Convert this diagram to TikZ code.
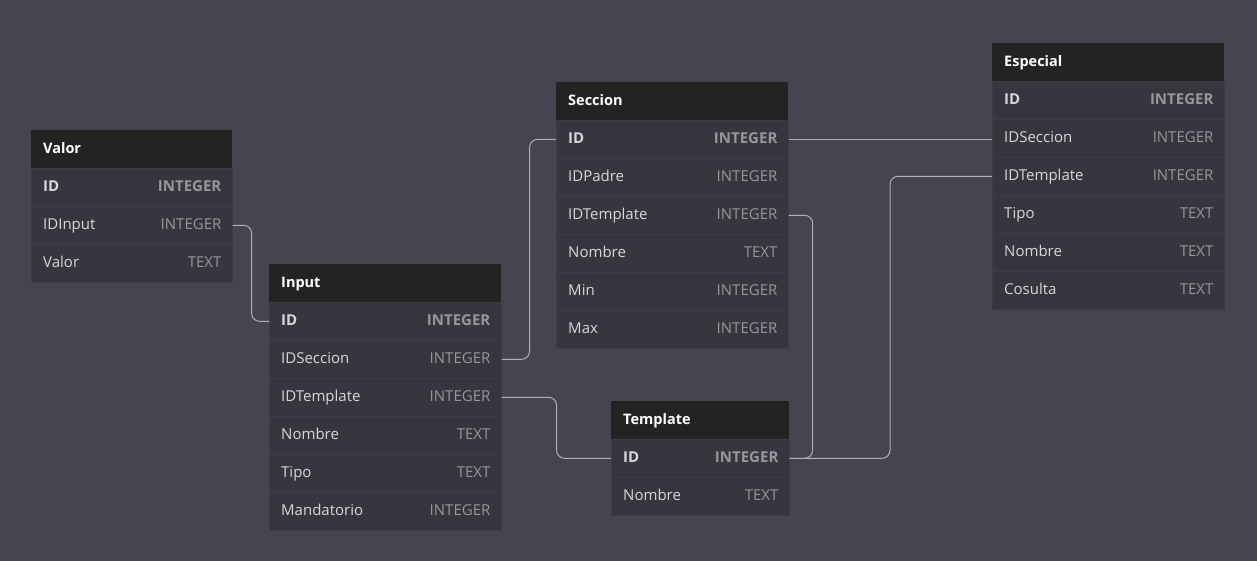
\documentclass[tikz,border=0pt]{standalone}
\usepackage{fontspec}
\setmainfont{Open Sans}
\definecolor{bgc}{RGB}{69,69,79}
\definecolor{rowc}{RGB}{54,54,62}
\definecolor{sepc}{RGB}{60,60,68}
\definecolor{hdrc}{RGB}{35,35,35}
\definecolor{namec}{RGB}{215,215,218}
\definecolor{typec}{RGB}{150,150,155}
\definecolor{linec}{RGB}{175,175,182}
\tikzset{
  hdrbox/.style={fill=hdrc, draw=none, minimum height=38pt, anchor=north west, inner sep=0pt},
  rowbox/.style={fill=rowc, draw=sepc, line width=0.6pt, minimum height=38pt, anchor=north west, inner sep=0pt},
  hdrtxt/.style={anchor=base west, inner sep=0pt, text=white, font=\fontsize{14.5}{16}\selectfont\bfseries},
  nametxt/.style={anchor=base west, inner sep=0pt, text=namec, font=\fontsize{15}{17}\selectfont},
  typetxt/.style={anchor=base east, inner sep=0pt, text=typec, font=\fontsize{15}{17}\selectfont},
  conn/.style={draw=linec, line width=1pt, rounded corners=8pt},
}
\newcommand\dbtab[6]{%
  \node[hdrbox, minimum width=#4] (#1-h) at (#2,#3) {};
  \node[hdrtxt] (#1-t) at ([xshift=12pt,yshift=-4.5pt]#1-h.west) {#5};
  \foreach \i/\f/\t in {#6} {
    \node[rowbox, minimum width=#4] (#1-\i) at (#2,{#3+38*\i}) {};
    \ifnum\i=1
      \node[nametxt, font=\fontsize{15}{17}\selectfont\bfseries] (#1-\i-n) at ([xshift=12pt,yshift=-4.5pt]#1-\i.west) {\f};
      \node[typetxt, font=\fontsize{15}{17}\selectfont\bfseries] (#1-\i-ty) at ([xshift=-11pt,yshift=-4.5pt]#1-\i.east) {\t};
    \else
      \node[nametxt] (#1-\i-n) at ([xshift=12pt,yshift=-4.5pt]#1-\i.west) {\f};
      \node[typetxt] (#1-\i-ty) at ([xshift=-11pt,yshift=-4.5pt]#1-\i.east) {\t};
    \fi
  }%
}
\begin{document}
\begin{tikzpicture}[x=1pt,y=-1pt]
\useasboundingbox (0,0) rectangle (1257,560);
\fill[bgc] (-5,-5) rectangle (1262,565);

\dbtab{valor}{31}{130}{201pt}{Valor}{1/ID/INTEGER,2/IDInput/INTEGER,3/Valor/TEXT}
\dbtab{input}{269}{264}{232pt}{Input}{1/ID/INTEGER,2/IDSeccion/INTEGER,3/IDTemplate/INTEGER,4/Nombre/TEXT,5/Tipo/TEXT,6/Mandatorio/INTEGER}
\dbtab{seccion}{556}{82}{232pt}{Seccion}{1/ID/INTEGER,2/IDPadre/INTEGER,3/IDTemplate/INTEGER,4/Nombre/TEXT,5/Min/INTEGER,6/Max/INTEGER}
\dbtab{template}{611}{401}{178pt}{Template}{1/ID/INTEGER,2/Nombre/TEXT}
\dbtab{especial}{992}{43}{232pt}{Especial}{1/ID/INTEGER,2/IDSeccion/INTEGER,3/IDTemplate/INTEGER,4/Tipo/TEXT,5/Nombre/TEXT,6/Cosulta/TEXT}

\draw[conn] (valor-2.east) -- ++(19,0) |- (input-1.west);
\draw[conn] (input-2.east) -- ++(28,0) |- (seccion-1.west);
\draw[conn] (input-3.east) -- ++(55,0) |- (template-1.west);
\draw[conn] (seccion-3.east) -- ++(24,0) |- (template-1.east);
\draw[conn] (especial-3.west) -- ++(-102,0) |- (template-1.east);
\draw[conn] (seccion-1.east) -- (seccion-1.east -| especial-2.west);
\end{tikzpicture}
\end{document}
